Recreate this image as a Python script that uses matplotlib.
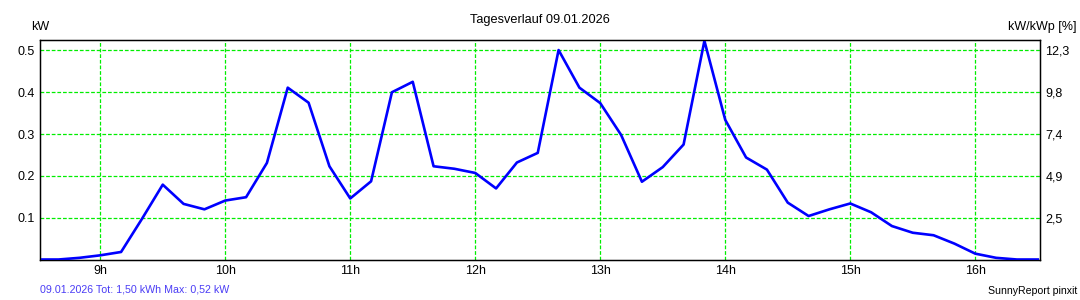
import matplotlib
matplotlib.use("Agg")
import matplotlib.pyplot as plt

# 10-minute values
times = ["08:30", "08:40", "08:50", "09:00", "09:10", "09:20", "09:30", "09:40", "09:50",
         "10:00", "10:10", "10:20", "10:30", "10:40", "10:50",
         "11:00", "11:10", "11:20", "11:30", "11:40", "11:50",
         "12:00", "12:10", "12:20", "12:30", "12:40", "12:50",
         "13:00", "13:10", "13:20", "13:30", "13:40", "13:50",
         "14:00", "14:10", "14:20", "14:30", "14:40", "14:50",
         "15:00", "15:10", "15:20", "15:30", "15:40", "15:50",
         "16:00", "16:10", "16:20", "16:30"]
power_kw = [0.0, 0.0, 0.004, 0.010, 0.018, 0.097, 0.179, 0.133, 0.120,
            0.141, 0.149, 0.231, 0.411, 0.375, 0.223,
            0.146, 0.187, 0.400, 0.425, 0.223, 0.217,
            0.207, 0.170, 0.232, 0.255, 0.501, 0.411,
            0.374, 0.298, 0.186, 0.221, 0.275, 0.523,
            0.334, 0.244, 0.215, 0.136, 0.104, 0.120,
            0.134, 0.113, 0.080, 0.064, 0.058, 0.038,
            0.014, 0.004, 0.0, 0.0]

hour_ticks = [9, 10, 11, 12, 13, 14, 15, 16]
hour_labels = ["9h", "10h", "11h", "12h", "13h", "14h", "15h", "16h"]
kw_ticks = [0.1, 0.2, 0.3, 0.4, 0.5]
kw_labels = ["0.1", "0.2", "0.3", "0.4", "0.5"]
pct_labels = ["2,5", "4,9", "7,4", "9,8", "12,3"]

plt.rcParams['font.family'] = ['Liberation Sans', 'DejaVu Sans']

hours = [int(t[:2]) + int(t[3:]) / 60 for t in times]

fig = plt.figure(figsize=(10.8, 3.0), dpi=100)
ax = fig.add_axes([40 / 1080, 1 - 259.5 / 300, 1000 / 1080, 219.5 / 300])

ax.plot(hours, power_kw, color='#0000ff', linewidth=1.9, zorder=3)

ax.set_xlim(8.518, 16.518)
ax.set_ylim(0, 0.525)
ax.set_xticks(hour_ticks)
ax.set_xticklabels(hour_labels)
ax.set_yticks(kw_ticks)
ax.set_yticklabels(kw_labels)
ax.tick_params(length=0, labelsize=9, pad=4)
ax.grid(True, color='#00ee00', linestyle=(0, (3, 1.5)), linewidth=0.9)
for s in ax.spines.values():
    s.set_linewidth(1.0)

# right axis: kW/kWp in percent
ax2 = ax.twinx()
ax2.set_ylim(0, 0.525)
ax2.set_yticks(kw_ticks)
ax2.set_yticklabels(pct_labels)
ax2.tick_params(length=0, labelsize=9, pad=4)

fig.text(540 / 1080, 1 - 20 / 300, "Tagesverlauf 09.01.2026", ha='center', va='center', fontsize=9.2)
fig.text(31 / 1080, 1 - 27 / 300, "kW", ha='left', va='center', fontsize=9)
fig.text(1077 / 1080, 1 - 27 / 300, "kW/kWp [%]", ha='right', va='center', fontsize=9)
fig.text(40 / 1080, 1 - 289 / 300, "09.01.2026 Tot: 1,50 kWh Max: 0,52 kW", ha='left', va='center',
         fontsize=7.7, color='#4a3cf5')
fig.text(1077 / 1080, 1 - 291 / 300, "SunnyReport pinxit", ha='right', va='center', fontsize=7.6)

fig.savefig("out.png", dpi=100)
